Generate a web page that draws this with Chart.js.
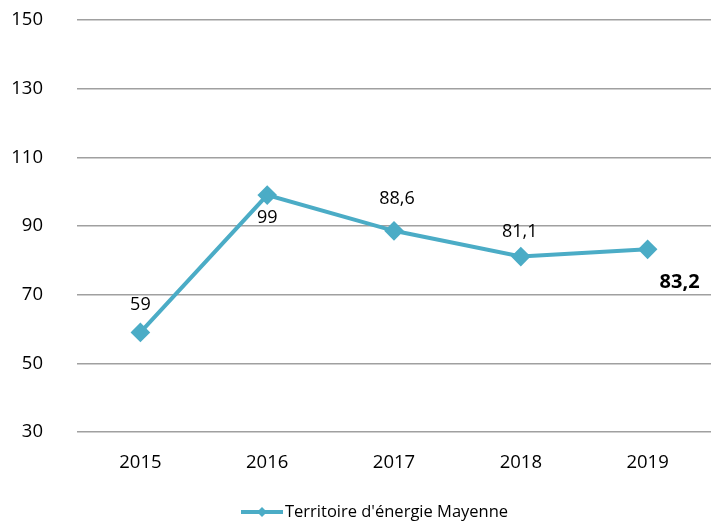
<!DOCTYPE html>
<html>
<head>
<meta charset="utf-8">
<script src="https://cdn.jsdelivr.net/npm/chart.js@4"></script>
<style>
  html, body { margin: 0; padding: 0; background: #fff; }
  #wrap { width: 712px; height: 523px; }
</style>
</head>
<body>
<div id="wrap"><canvas id="chart" width="712" height="523"></canvas></div>
<script>
// Chart values
const years = ['2015', '2016', '2017', '2018', '2019'];
const values = [59, 99, 88.6, 81.1, 83.2];
const valueLabels = ['59', '99', '88,6', '81,1', '83,2'];
const seriesName = "Territoire d'énergie Mayenne";
const yTicks = [30, 50, 70, 90, 110, 130, 150];

const lineColor = '#4BACC6';
const fontFamily = "'Open Sans', 'Noto Sans', sans-serif";

// label offsets relative to each point (dx, dy)
const labelOffsets = [[0, -28], [0, 23], [3, -32], [-1, -25], [32, 33]];

const dataLabels = {
    id: 'dataLabels',
    afterDatasetsDraw(chart) {
        const ctx = chart.ctx;
        const meta = chart.getDatasetMeta(0);
        ctx.save();
        ctx.textAlign = 'center';
        ctx.textBaseline = 'middle';
        ctx.fillStyle = '#000';
        meta.data.forEach((pt, i) => {
            const last = i === meta.data.length - 1;
            ctx.font = (last ? 'bold 20px ' : '18px ') + fontFamily;
            ctx.fillText(valueLabels[i], pt.x + labelOffsets[i][0], pt.y + labelOffsets[i][1]);
        });
        ctx.restore();
    }
};

// legend: line with diamond marker, then the series name
const lineLegend = {
    id: 'lineLegend',
    afterDraw(chart) {
        const ctx = chart.ctx;
        const y = 512;
        const x0 = 241, x1 = 283;
        ctx.save();
        ctx.strokeStyle = lineColor;
        ctx.lineWidth = 4;
        ctx.beginPath();
        ctx.moveTo(x0, y);
        ctx.lineTo(x1, y);
        ctx.stroke();
        const cx = (x0 + x1) / 2, r = 5;
        ctx.fillStyle = lineColor;
        ctx.beginPath();
        ctx.moveTo(cx, y - r);
        ctx.lineTo(cx + r, y);
        ctx.lineTo(cx, y + r);
        ctx.lineTo(cx - r, y);
        ctx.closePath();
        ctx.fill();
        ctx.fillStyle = '#000';
        ctx.font = '16.5px ' + fontFamily;
        ctx.textAlign = 'left';
        ctx.textBaseline = 'middle';
        ctx.fillText(seriesName, x1 + 2, y);
        ctx.restore();
    }
};

new Chart(document.getElementById('chart'), {
    type: 'line',
    data: {
        labels: years,
        datasets: [{
            label: seriesName,
            data: values,
            borderColor: lineColor,
            backgroundColor: lineColor,
            borderWidth: 4,
            pointStyle: 'rectRot',
            pointRadius: 7,
            pointHoverRadius: 7,
            tension: 0
        }]
    },
    options: {
        responsive: false,
        animation: false,
        layout: { autoPadding: false, padding: { top: 20, right: 1, bottom: 0, left: 0 } },
        plugins: {
            legend: { display: false },
            tooltip: { enabled: false }
        },
        scales: {
            x: {
                offset: true,
                grid: { display: false },
                border: { display: false },
                ticks: { color: '#000', font: { family: fontFamily, size: 18.5 }, padding: 12 },
                afterFit(scale) {
                    scale.height = 91;
                    scale.paddingLeft = 0;
                    scale.paddingRight = 0;
                }
            },
            y: {
                min: 30,
                max: 150,
                afterBuildTicks(scale) { scale.ticks = yTicks.map(v => ({ value: v })); },
                grid: { color: '#a0a0a0', lineWidth: 1.5, drawTicks: false },
                border: { display: false },
                ticks: { color: '#000', font: { family: fontFamily, size: 18.5 }, padding: 34 },
                afterFit(scale) {
                    scale.width = 77;
                    scale.paddingTop = 0;
                    scale.paddingBottom = 0;
                }
            }
        }
    },
    plugins: [dataLabels, lineLegend]
});
</script>
</body>
</html>
